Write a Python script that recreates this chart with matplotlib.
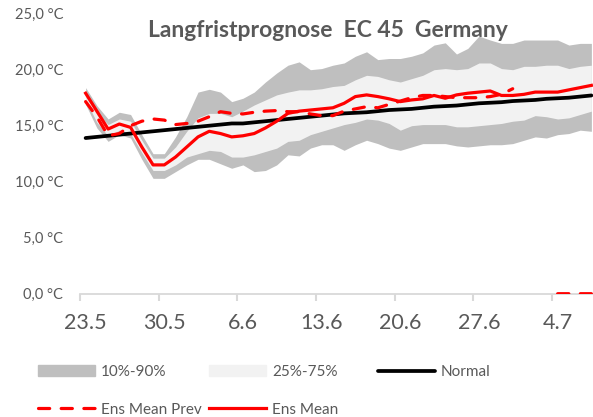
import numpy as np
import pandas as pd
import matplotlib
matplotlib.use("Agg")
import matplotlib.pyplot as plt
from matplotlib.lines import Line2D
from matplotlib.patches import Patch

plt.rcParams['font.family'] = ['Lato', 'DejaVu Sans']

# days 23.5 -> 7.7
days = pd.date_range('2024-05-23', periods=46)
day_labels = [f"{d.day}.{d.month}" for d in days]

p90 = [18.4, 16.8, 15.6, 16.2, 16.0, 14.2, 12.5, 12.5, 14.0, 15.8,
       18.0, 18.25, 18.0, 17.15, 17.45, 18.0, 18.9, 19.7, 20.4, 20.7,
       20.0, 20.1, 20.4, 20.6, 21.2, 21.6, 20.9, 21.0, 21.0, 21.2,
       21.5, 22.2, 22.4, 21.4, 21.9, 23.0, 22.65, 22.35, 22.35, 22.65,
       22.65, 22.65, 22.65, 22.2, 22.35, 22.35]
p75 = [18.1, 16.2, 15.1, 15.6, 15.4, 13.7, 12.1, 12.1, 13.1, 14.5,
       15.7, 16.1, 16.1, 15.8, 16.3, 16.85, 17.3, 17.75, 18.0, 18.2,
       18.2, 18.3, 18.5, 18.6, 19.1, 19.5, 19.4, 19.1, 18.9, 19.2,
       19.5, 20.0, 20.1, 20.0, 20.1, 20.6, 20.6, 20.1, 20.0, 20.3,
       20.3, 20.4, 20.4, 20.1, 20.3, 20.4]
p25 = [17.3, 15.3, 14.1, 14.6, 14.3, 12.6, 11.0, 11.0, 11.5, 12.2,
       12.5, 12.8, 12.7, 12.2, 12.2, 12.4, 12.7, 13.0, 13.6, 13.7,
       14.2, 14.5, 14.8, 15.1, 15.3, 15.6, 15.5, 15.2, 14.6, 15.0,
       15.1, 15.1, 15.1, 14.9, 14.9, 15.0, 15.1, 15.2, 15.4, 15.5,
       15.9, 15.8, 15.6, 15.7, 16.0, 16.3]
p10 = [16.9, 14.8, 13.6, 14.2, 13.9, 12.0, 10.3, 10.3, 10.9, 11.5,
       12.0, 12.0, 11.6, 11.2, 11.5, 10.9, 11.0, 11.5, 12.4, 12.3,
       13.0, 13.3, 13.3, 12.8, 13.3, 13.7, 13.4, 13.0, 12.8, 13.1,
       13.4, 13.4, 13.4, 13.2, 13.1, 13.2, 13.3, 13.3, 13.4, 13.7,
       14.0, 13.9, 14.2, 14.3, 14.6, 14.5]
normal = [13.9, 14.0, 14.1, 14.2, 14.3, 14.4, 14.5, 14.6, 14.7, 14.8,
          14.9, 15.0, 15.1, 15.2, 15.2, 15.3, 15.4, 15.5, 15.6, 15.7,
          15.8, 15.9, 16.0, 16.1, 16.15, 16.2, 16.3, 16.4, 16.45, 16.5,
          16.6, 16.7, 16.75, 16.8, 16.9, 17.0, 17.05, 17.1, 17.2, 17.25,
          17.3, 17.4, 17.45, 17.5, 17.6, 17.7]
ens_mean = [17.9, 16.3, 14.7, 15.15, 14.85, 13.1, 11.5, 11.5, 12.2, 13.1,
            14.0, 14.5, 14.3, 14.0, 14.1, 14.3, 14.8, 15.4, 16.1, 16.3,
            16.4, 16.5, 16.6, 17.0, 17.6, 17.75, 17.6, 17.4, 17.15, 17.3,
            17.4, 17.7, 17.45, 17.75, 17.9, 18.0, 18.1, 17.7, 17.7, 17.8,
            18.0, 18.0, 18.0, 18.2, 18.4, 18.6]
ens_prev = [17.15, 15.8, 14.1, 14.3, 15.0, 15.4, 15.6, 15.5, 15.1, 15.2,
            15.4, 15.8, 16.25, 16.1, 16.05, 16.2, 16.3, 16.35, 16.25, 16.25,
            16.05, 15.9, 15.9, 16.3, 16.5, 16.7, 16.6, 16.9, 17.2, 17.5,
            17.7, 17.7, 17.6, 17.5, 17.5, 17.5, 17.6, 17.8, 18.3, np.nan,
            np.nan, np.nan, 0, 0, 0, 0]

x = np.arange(len(days))
grey_txt = '#595959'
red = '#FF0000'
dash = (0, (3.5, 3.6))

fig = plt.figure(figsize=(5.93, 4.17), dpi=100)
ax = fig.add_axes([80/593, 1 - 293.7/417, 517/593, 280/417])

ax.fill_between(x, p10, p90, color='#BFBFBF', lw=0)
ax.fill_between(x, p25, p75, color='#F2F2F2', lw=0)
ax.plot(x, normal, color='black', lw=2.7, solid_capstyle='round', zorder=3)
ax.plot(x, ens_prev, color=red, lw=2.3, linestyle=dash,
        dash_capstyle='round', zorder=4)
ax.plot(x, ens_mean, color=red, lw=2.3, solid_joinstyle='round', zorder=5)

ax.set_xlim(-0.5, len(days) - 0.5)
ax.set_ylim(0, 25)

ax.set_yticks(np.arange(0, 26, 5))
ax.set_yticklabels([f"{v:.1f}".replace('.', ',') + " °C" for v in range(0, 26, 5)])
ax.tick_params(axis='y', length=0, pad=12, labelsize=10.5, labelcolor=grey_txt)

# tick marks between categories, labels on categories
ax.set_xticks(np.arange(-0.5, len(days), 7))
ax.set_xticklabels([])
ax.set_xticks(x[::7], minor=True)
ax.set_xticklabels(day_labels[::7], minor=True)
ax.tick_params(axis='x', which='major', length=5, width=1.5, color='#D9D9D9')
ax.tick_params(axis='x', which='minor', length=0, pad=14, labelsize=15.5,
               labelcolor=grey_txt)

for s in ['top', 'right', 'left']:
    ax.spines[s].set_visible(False)
ax.spines['bottom'].set_color('#D9D9D9')
ax.spines['bottom'].set_linewidth(1.3)

fig.text(328/593, 1 - 37/417, "Langfristprognose  EC 45  Germany",
         ha='center', va='baseline', fontsize=16.5, fontweight='bold',
         color=grey_txt)

leg_kw = dict(loc='upper left', frameon=False, fontsize=11, handlelength=3.73,
              handletextpad=0.4, labelspacing=1.55, borderpad=0, borderaxespad=0,
              labelcolor=grey_txt)
top = 1 - 365/417
col1 = [Patch(color='#BFBFBF'),
        Line2D([], [], color=red, lw=2.3, linestyle=dash, dash_capstyle='round')]
col2 = [Patch(color='#F2F2F2'), Line2D([], [], color=red, lw=2.3)]
col3 = [Line2D([], [], color='black', lw=2.7, solid_capstyle='round')]
fig.legend(col1, ['10%-90%', 'Ens Mean Prev'], bbox_to_anchor=(38/593, top), **leg_kw)
fig.legend(col2, ['25%-75%', 'Ens Mean'], bbox_to_anchor=(209/593, top), **leg_kw)
fig.legend(col3, ['Normal'], bbox_to_anchor=(378/593, top), **leg_kw)

fig.savefig('out.png', dpi=100)
